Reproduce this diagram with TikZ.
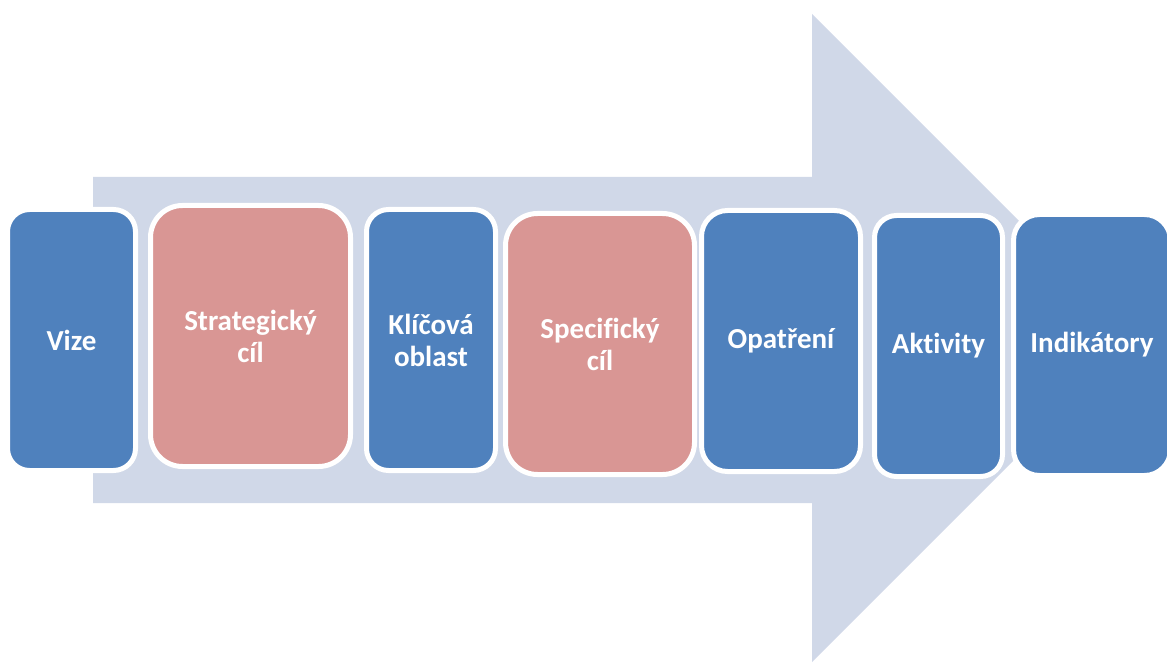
\documentclass[tikz,border=0pt]{standalone}
\usepackage{fontspec}
\setmainfont[Ligatures=NoCommon]{Carlito}
\definecolor{arrowc}{HTML}{D0D8E8}
\definecolor{bluec}{HTML}{4F81BD}
\definecolor{pinkc}{HTML}{D99694}
\begin{document}
\begin{tikzpicture}[x=1pt,y=-1pt,
  box/.style={draw=white, line width=5pt, rounded corners=#1, inner sep=0pt, outer sep=0pt,
    minimum height=261pt, text=white, align=center,
    font=\fontsize{29}{32}\selectfont\bfseries},
  bluebox/.style={box=22pt, fill=bluec},
  pinkbox/.style={box=32pt, fill=pinkc}]
\useasboundingbox (0,0) rectangle (1167,663);
\begin{scope}
\clip (0,0) rectangle (1167,663);
\fill[arrowc] (93,177) -- (812,177) -- (812,14) -- (1136,338) -- (812,662) -- (812,503) -- (93,503) -- cycle;
\node[bluebox, minimum width=128pt] (vize) at (71.5,340) {Vize};
\node[pinkbox, minimum width=200pt] (strat) at (250.5,336) {Strategický\\cíl};
\node[bluebox, minimum width=129pt] (klic) at (431,340) {Klíčová\\oblast};
\node[pinkbox, minimum width=189pt] (spec) at (600,344) {Specifický\\cíl};
\node[bluebox, rounded corners=26pt, minimum width=159pt] (opat) at (781,341) {Opatření};
\node[bluebox, minimum width=128pt] (akt) at (938.5,346) {Aktivity};
\node[bluebox, rounded corners=26pt, minimum width=157pt] (ind) at (1092,345) {Indikátory};
\end{scope}
\end{tikzpicture}
\end{document}
